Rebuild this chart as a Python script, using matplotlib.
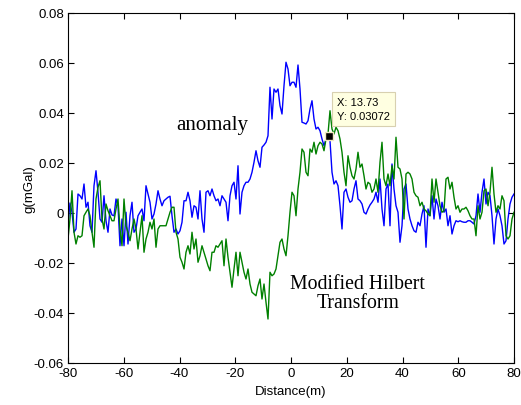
import numpy as np
import matplotlib
matplotlib.use('Agg')
import matplotlib.pyplot as plt

plt.rcParams['font.family'] = ['Liberation Sans', 'DejaVu Sans']
plt.rcParams['axes.unicode_minus'] = False

# ── data (224 samples, -80 … 80 m) ──────────────────────────────────────────
distance = np.linspace(-80, 80, 224)

anomaly = [
    -0.0051, 0.0040, 0.0003, -0.0077, -0.0064, 0.0076, 0.0069, 0.0056, 0.0116, 0.0023,
    0.0043, -0.0051, -0.0077, 0.0109, 0.0169, 0.0083, -0.0024, -0.0037, 0.0069, -0.0031,
    -0.0077, 0.0016, -0.0008, -0.0011, 0.0056, 0.0029, -0.0131, -0.0024, -0.0131, 0.0003,
    -0.0124, -0.0011, 0.0043, -0.0077, -0.0064, -0.0011, 0.0003, 0.0016, -0.0031, 0.0109,
    0.0076, 0.0043, -0.0024, -0.0004, 0.0036, 0.0089, 0.0056, 0.0029, 0.0049, 0.0056,
    0.0063, 0.0067, -0.0011, -0.0077, -0.0064, -0.0084, -0.0071, -0.0037, 0.0049, 0.0049,
    0.0083, 0.0049, -0.0017, 0.0029, 0.0023, -0.0024, 0.0089, -0.0024, -0.0077, 0.0083,
    0.0089, 0.0069, 0.0096, 0.0069, 0.0049,
    0.0056, 0.0029, 0.0069, 0.0056, 0.0043, -0.0031, 0.0069, 0.0109, 0.0123, 0.0056,
    0.0189, -0.0004, 0.0083, 0.0109, 0.0123, 0.0123, 0.0136, 0.0163, 0.0203, 0.0249,
    0.0209, 0.0183, 0.0263, 0.0272, 0.0283, 0.0309, 0.0503, 0.0376, 0.0496, 0.0483,
    0.0496, 0.0429, 0.0396, 0.0509, 0.0603, 0.0576, 0.0509, 0.0523, 0.0523, 0.0503,
    0.0592, 0.0496, 0.0363, 0.0360, 0.0356, 0.0369, 0.0416, 0.0449, 0.0376, 0.0336,
    0.0343, 0.0329, 0.0296, 0.0269, 0.0296,
    0.0309, 0.0289, 0.0163, 0.0116, 0.0129, 0.0109, 0.0029, -0.0064, 0.0083, 0.0096,
    0.0063, 0.0043, 0.0049, 0.0096, 0.0129, 0.0056, 0.0049, 0.0036, 0.0003, -0.0004,
    0.0016, 0.0032, 0.0043, 0.0056, 0.0083, 0.0043, 0.0136, 0.0016, -0.0051, 0.0096,
    0.0116, -0.0051, 0.0196, 0.0096, 0.0029, 0.0003, -0.0117, -0.0051, 0.0096, 0.0116,
    0.0016, -0.0024, -0.0051, -0.0071, -0.0077, -0.0037, -0.0051, -0.0004, 0.0029, -0.0137,
    0.0016, -0.0011, 0.0069, -0.0024, 0.0056, 0.0029, -0.0024, 0.0043, 0.0003, 0.0016,
    -0.0051, -0.0011, -0.0084, -0.0051, -0.0031, -0.0035, -0.0031, -0.0035, -0.0037, -0.0037,
    -0.0031, -0.0031, -0.0037, -0.0044, -0.0011, 0.0076, 0.0003, 0.0083, 0.0136, 0.0036,
    0.0083, 0.0069, -0.0011, -0.0124, -0.0024, 0.0016, -0.0011, -0.0051, -0.0124, -0.0111,
    -0.0024, 0.0036, 0.0063, 0.0076,
]

hilbert_mod = [
    -0.0104, -0.0024, 0.0089, -0.0077, -0.0124, -0.0091, -0.0097, -0.0091, -0.0011, 0.0003,
    0.0016, -0.0011, -0.0077, -0.0137, 0.0056, 0.0103, 0.0129, -0.0024, -0.0064, 0.0036,
    0.0009, -0.0011, -0.0031, -0.0031, 0.0016, 0.0056, -0.0064, -0.0131, 0.0056, -0.0051,
    -0.0077, -0.0111, -0.0064, -0.0024, -0.0064, -0.0144, -0.0077, -0.0011, -0.0157, -0.0104,
    -0.0077, -0.0037, -0.0064, -0.0024, -0.0137, -0.0064, -0.0051, -0.0051, -0.0051, -0.0051,
    -0.0024, 0.0003, 0.0023, 0.0023, -0.0077, -0.0104, -0.0177, -0.0197, -0.0224, -0.0157,
    -0.0131, -0.0164, -0.0077, -0.0144, -0.0104, -0.0197, -0.0171, -0.0131, -0.0157, -0.0184,
    -0.0211, -0.0231, -0.0157, -0.0157, -0.0131,
    -0.0137, -0.0124, -0.0111, -0.0211, -0.0104, -0.0177, -0.0237, -0.0297, -0.0224, -0.0157,
    -0.0251, -0.0157, -0.0197, -0.0237, -0.0264, -0.0224, -0.0284, -0.0317, -0.0324, -0.0331,
    -0.0291, -0.0264, -0.0344, -0.0284, -0.0357, -0.0424, -0.0237, -0.0251, -0.0244, -0.0224,
    -0.0171, -0.0117, -0.0104, -0.0144, -0.0171, -0.0091, 0.0003, 0.0083, 0.0069, -0.0011,
    0.0096, 0.0163, 0.0256, 0.0243, 0.0163, 0.0149, 0.0256, 0.0243, 0.0283, 0.0236,
    0.0269, 0.0283, 0.0276, 0.0249, 0.0296,
    0.0316, 0.0409, 0.0336, 0.0316, 0.0343, 0.0329, 0.0296, 0.0243, 0.0163, 0.0109,
    0.0229, 0.0183, 0.0149, 0.0136, 0.0176, 0.0243, 0.0183, 0.0196, 0.0149, 0.0096,
    0.0123, 0.0116, 0.0083, 0.0096, 0.0136, 0.0083, 0.0203, 0.0283, 0.0136, 0.0109,
    0.0156, 0.0109, 0.0189, 0.0136, 0.0303, 0.0183, 0.0176, 0.0136, -0.0024, 0.0156,
    0.0163, 0.0156, 0.0136, 0.0083, 0.0069, 0.0063, 0.0029, 0.0043, 0.0016, 0.0009,
    -0.0004, -0.0011, 0.0136, 0.0043, 0.0136, 0.0083, 0.0029, 0.0003, 0.0009, 0.0136,
    0.0143, 0.0096, 0.0123, 0.0063, 0.0016, 0.0029, 0.0003, 0.0016, 0.0016, 0.0023,
    0.0009, -0.0011, -0.0024, -0.0024, -0.0091, 0.0029, -0.0024, 0.0003, 0.0089, 0.0096,
    0.0029, 0.0083, 0.0183, 0.0076, 0.0003, 0.0029, 0.0016, 0.0069, 0.0049, -0.0091,
    -0.0104, -0.0091, -0.0024, 0.0003,
]

tip_x, tip_y = 13.73, 0.03072

# ── plot ────────────────────────────────────────────────────────────────────
fig = plt.figure(figsize=(5.21, 4.06), dpi=100)
ax = fig.add_axes([68 / 521, 42 / 406, 446 / 521, 350 / 406])

ax.plot(distance, anomaly, color=(0, 0, 1), lw=1.0)
ax.plot(distance, hilbert_mod, color=(0, 0.5, 0), lw=1.0)

ax.set_xlim(-80, 80)
ax.set_ylim(-0.06, 0.08)
ax.set_xticks(np.arange(-80, 81, 20))
ax.set_yticks(np.arange(-0.06, 0.081, 0.02))
ax.set_yticklabels(['-0.06', '-0.04', '-0.02', '0', '0.02', '0.04', '0.06', '0.08'])
ax.tick_params(direction='in', length=4, width=0.8, labelsize=9.5, pad=3,
               top=True, right=True, labeltop=False, labelright=False)
for s in ax.spines.values():
    s.set_linewidth(0.8)

ax.set_xlabel('Distance(m)', fontsize=9.5, labelpad=4)
ax.set_ylabel('g(mGal)', fontsize=9.5)
ax.yaxis.set_label_coords(-0.072, 0.5)

ax.text(-28.3, 0.0355, 'anomaly', family='Liberation Serif', fontsize=15,
        ha='center', va='center')
ax.text(24.0, -0.0320, 'Modified Hilbert\nTransform', family='Liberation Serif',
        fontsize=14.2, ha='center', va='center', linespacing=1.0)

# data tip
ax.plot(tip_x, tip_y, 's', color='black', ms=6, mec='#f0e8c0', mew=1.0)
ax.text(16.6, 0.0465, 'X: 13.73\nY: 0.03072', fontsize=8, ha='left', va='top',
        linespacing=1.5,
        bbox=dict(boxstyle='square,pad=0.45', fc='#ffffe1', ec='#d8d0b0', lw=0.8))

fig.savefig('out.png', dpi=100)
